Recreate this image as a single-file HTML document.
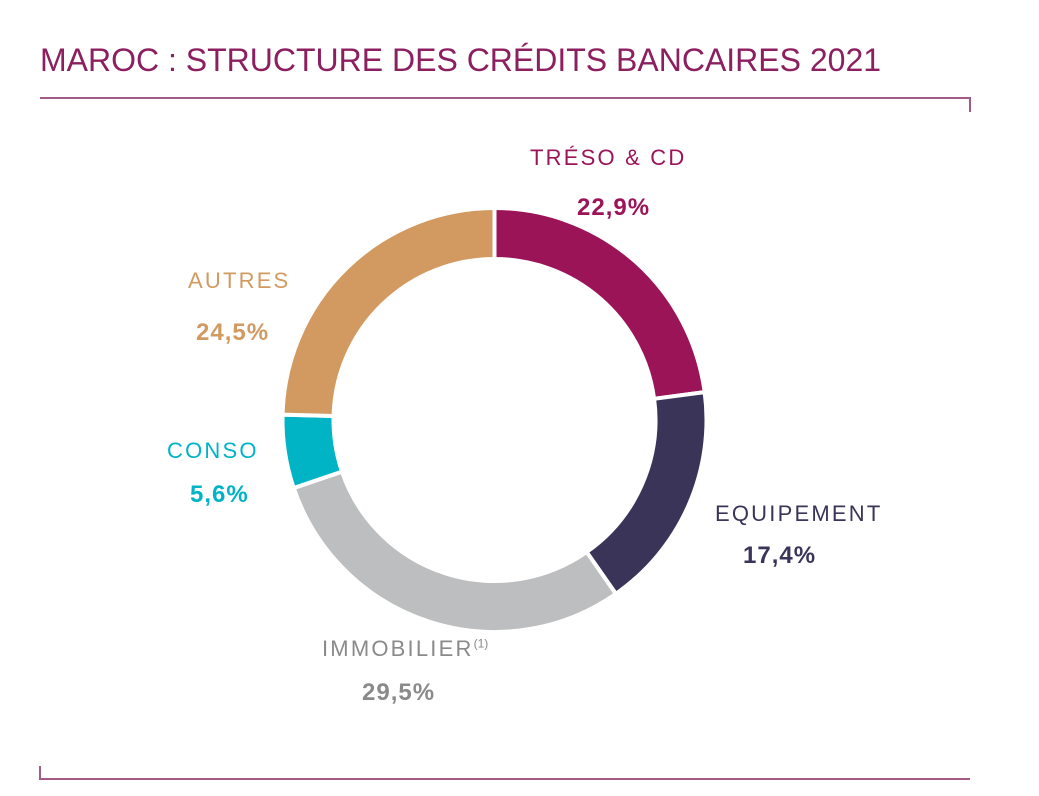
<!DOCTYPE html>
<html><head><meta charset="utf-8"><style>
body{margin:0;background:#fff;width:1039px;height:796px;overflow:hidden;font-family:"Liberation Sans",sans-serif}
.t{position:absolute;white-space:nowrap;letter-spacing:2.2px}
.b{font-size:24px!important;letter-spacing:1px!important;font-weight:bold}
</style></head><body>
<div class="t" style="left:40px;top:42px;font-size:32px;color:#8c1f5f;letter-spacing:0">MAROC : STRUCTURE DES CRÉDITS BANCAIRES 2021</div>
<svg width="1039" height="796" style="position:absolute;left:0;top:0">
<path d="M40 98 H970 V112" fill="none" stroke="#a35a86" stroke-width="2"/>
<path d="M40 766 V779 H970" fill="none" stroke="#a35a86" stroke-width="2"/>
<g id="d"></g>
</svg>
<div class="t" style="left:530px;top:145px;font-size:22px;color:#9b1458">TRÉSO &amp; CD</div>
<div class="t b" style="left:577px;top:194px;color:#9b1458">22,9%</div>
<div class="t" style="left:188px;top:268px;font-size:22px;color:#d29a60">AUTRES</div>
<div class="t b" style="left:196px;top:319px;color:#d29a60">24,5%</div>
<div class="t" style="left:167px;top:438px;font-size:22px;color:#00b3c7">CONSO</div>
<div class="t b" style="left:190px;top:481px;color:#00b3c7">5,6%</div>
<div class="t" style="left:715px;top:501px;font-size:22px;color:#3a3558">EQUIPEMENT</div>
<div class="t b" style="left:743px;top:542px;color:#3a3558">17,4%</div>
<div class="t" style="left:322px;top:636px;font-size:22px;color:#8a8a8a">IMMOBILIER<sup style="font-size:12px;letter-spacing:0">(1)</sup></div>
<div class="t b" style="left:362px;top:679px;color:#8a8a8a">29,5%</div>
<script>
var cx=494.5,cy=420,R=212,r=161;
var d=[[22.9,"#9c1458"],[17.4,"#3a3558"],[29.5,"#bdbebf"],[5.6,"#00b4c6"],[24.6,"#d29a60"]];
var a=0,s="";
function p(rad,ang){return [cx+rad*Math.sin(ang),cy-rad*Math.cos(ang)];}
d.forEach(function(e){var b=a+e[0]/100*2*Math.PI;var l=(b-a)>Math.PI?1:0;
var p1=p(R,a),p2=p(R,b),p3=p(r,b),p4=p(r,a);
s+='<path d="M'+p1+' A'+R+' '+R+' 0 '+l+' 1 '+p2+' L'+p3+' A'+r+' '+r+' 0 '+l+' 0 '+p4+'Z" fill="'+e[1]+'" stroke="#fff" stroke-width="4"/>';a=b;});
document.getElementById("d").innerHTML=s;
</script>
</body></html>
